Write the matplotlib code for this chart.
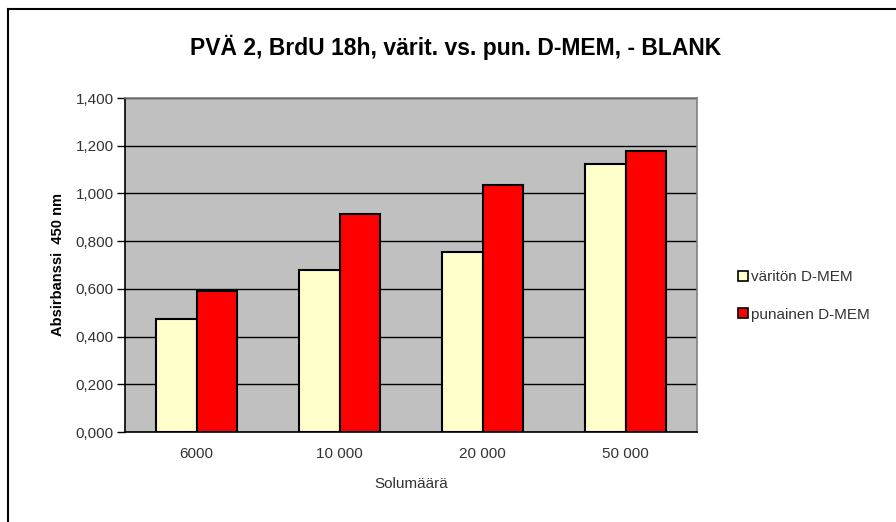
import matplotlib
matplotlib.use("Agg")
import matplotlib.pyplot as plt
import numpy as np
from matplotlib.lines import Line2D

plt.rcParams['font.family'] = ['Liberation Sans', 'DejaVu Sans']

categories = ["6000", "10 000", "20 000", "50 000"]
varitun = [0.472, 0.679, 0.753, 1.122]
punainen = [0.592, 0.915, 1.035, 1.178]
series_names = ["väritön D-MEM", "punainen D-MEM"]
yticks = [0.0, 0.2, 0.4, 0.6, 0.8, 1.0, 1.2, 1.4]

fig = plt.figure(figsize=(8.96, 5.22), dpi=100)
ax = fig.add_axes([125/896, 1-432/522, (697-125)/896, (432-98)/522])
ax.set_facecolor('#c0c0c0')

x = np.arange(len(categories))
w = 0.283
c1 = '#ffffcc'
c2 = '#ff0000'
ax.bar(x - w/2, varitun, w, color=c1, edgecolor='black', linewidth=1.5, zorder=3)
ax.bar(x + w/2, punainen, w, color=c2, edgecolor='black', linewidth=1.5, zorder=3)

ax.set_xlim(-0.5, len(categories) - 0.5)
ax.set_ylim(0, 1.4)
ax.set_yticks(yticks)
ax.set_yticklabels([f"{v:.3f}".replace('.', ',') for v in yticks])
ax.grid(axis='y', color='black', linewidth=1, zorder=1)
ax.set_axisbelow(True)
ax.set_xticks(x)
ax.set_xticklabels(categories, fontsize=11, color='#333333')
ax.tick_params(axis='x', length=0, pad=11)
ax.tick_params(axis='y', length=6, width=1, labelsize=11, labelcolor='#333333', pad=2)

for s in ['top', 'right']:
    ax.spines[s].set_color('#808080')
    ax.spines[s].set_linewidth(1.2)
for s in ['left', 'bottom']:
    ax.spines[s].set_color('black')
    ax.spines[s].set_linewidth(1.2)

ax.set_xlabel("Solumäärä", fontsize=11, color='#333333', labelpad=11)
ax.set_ylabel("Absirbanssi  450 nm", fontsize=10.5, fontweight='bold', labelpad=8)

fig.text(456/896, 1-47/522, "PVÄ 2, BrdU 18h, värit. vs. pun. D-MEM, - BLANK",
         ha='center', va='center', fontsize=16.5, fontweight='bold')

handles = [Line2D([], [], marker='s', linestyle='none', markersize=7,
                  markerfacecolor=c, markeredgecolor='black', markeredgewidth=1.2)
           for c in (c1, c2)]
fig.legend(handles, series_names, loc='center left', bbox_to_anchor=(722/896, 1-296/522),
           frameon=False, fontsize=11, handletextpad=0.0, labelspacing=1.55,
           handlelength=1.0, labelcolor='#333333')

# figure border (top and left visible)
fig.add_artist(Line2D([8/896, 1], [1-9/522, 1-9/522], transform=fig.transFigure, color='black', linewidth=1.5))
fig.add_artist(Line2D([8/896, 8/896], [0, 1-9/522], transform=fig.transFigure, color='black', linewidth=1.5))

fig.savefig("out.png", dpi=100)
